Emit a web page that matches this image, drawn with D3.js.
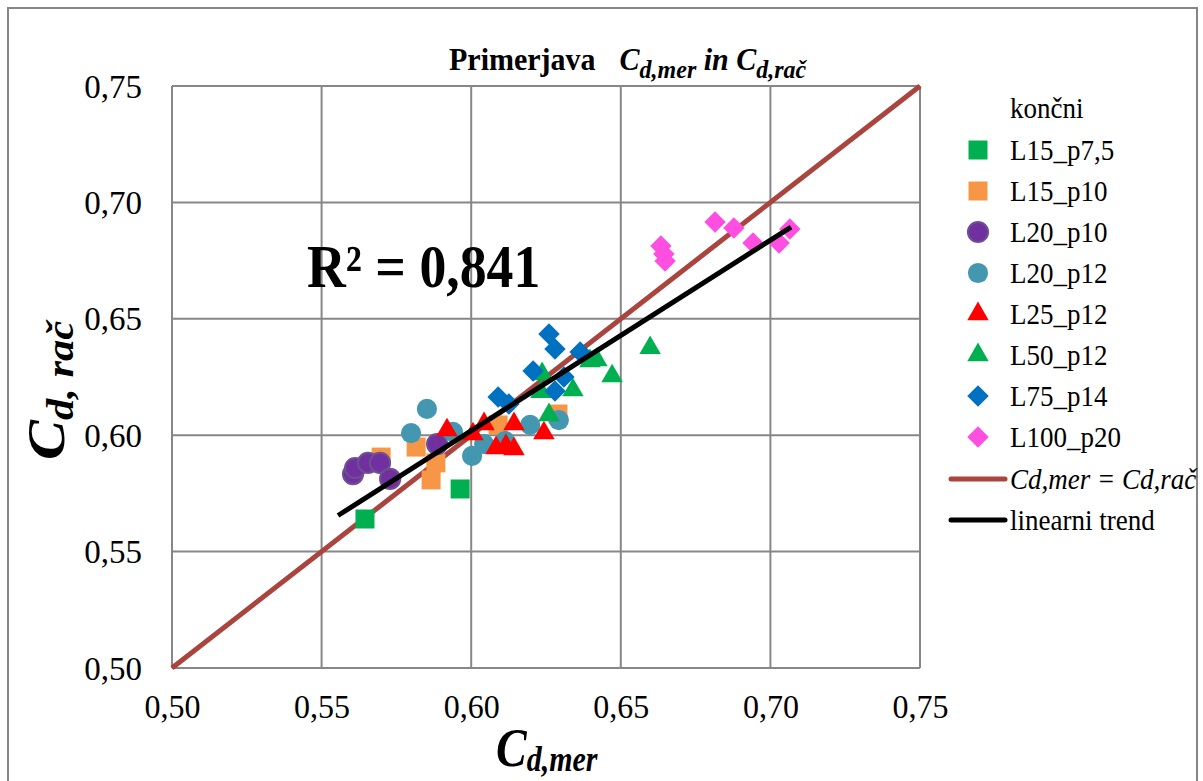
<!DOCTYPE html>
<html><head><meta charset="utf-8">
<script src="https://cdn.jsdelivr.net/npm/d3@7"></script>
<style>body{margin:0;background:#fff}svg{display:block}text{white-space:pre}</style>
</head><body>
<script>
// ---- data ----
const xTicks = [0.50, 0.55, 0.60, 0.65, 0.70, 0.75];
const yTicks = [0.50, 0.55, 0.60, 0.65, 0.70, 0.75];
const seriesNames = ["L15_p7,5","L15_p10","L20_p10","L20_p12","L25_p12","L50_p12","L75_p14","L100_p20"];
const L15_p7_5_x = [0.5645, 0.5963];
const L15_p7_5_y = [0.5640, 0.5769];
const L15_p10_x = [0.5699, 0.5816, 0.5882, 0.5866, 0.6090, 0.6290];
const L15_p10_y = [0.5906, 0.5949, 0.5881, 0.5808, 0.6044, 0.6091];
const L20_p10_x = [0.5605, 0.5612, 0.5655, 0.5695, 0.5729, 0.5886];
const L20_p10_y = [0.5833, 0.5859, 0.5881, 0.5881, 0.5812, 0.5962];
const L20_p12_x = [0.5852, 0.5799, 0.5939, 0.6003, 0.6043, 0.6113, 0.6197, 0.6293];
const L20_p12_y = [0.6113, 0.6009, 0.6014, 0.5911, 0.5962, 0.5975, 0.6044, 0.6065];
const L25_p12_x = [0.5919, 0.6006, 0.6043, 0.6083, 0.6116, 0.6143, 0.6143, 0.6243];
const L25_p12_y = [0.6022, 0.6005, 0.6048, 0.5945, 0.5954, 0.5941, 0.6048, 0.6009];
const L50_p12_x = [0.6237, 0.6233, 0.6340, 0.6397, 0.6420, 0.6471, 0.6260, 0.6598];
const L50_p12_y = [0.6263, 0.6186, 0.6194, 0.6319, 0.6323, 0.6254, 0.6087, 0.6375];
const L75_p14_x = [0.6260, 0.6280, 0.6207, 0.6364, 0.6310, 0.6280, 0.6090, 0.6126];
const L75_p14_y = [0.6435, 0.6370, 0.6276, 0.6357, 0.6250, 0.6190, 0.6164, 0.6134];
const L100_p20_x = [0.6634, 0.6644, 0.6648, 0.6815, 0.6878, 0.6942, 0.7029, 0.7065];
const L100_p20_y = [0.6813, 0.6778, 0.6748, 0.6916, 0.6890, 0.6826, 0.6826, 0.6886];
const equalLineX = [0.50, 0.75];
const equalLineY = [0.50, 0.75];
const trendX = [0.5555, 0.7069];
const trendY = [0.5655, 0.6894];
const r2Label = "R² = 0,841";

// ---- styling ----
const series = [
  {name: seriesNames[0], xs: L15_p7_5_x, ys: L15_p7_5_y, shape: "square", fill: "#00B050"},
  {name: seriesNames[1], xs: L15_p10_x, ys: L15_p10_y, shape: "square", fill: "#F79646"},
  {name: seriesNames[2], xs: L20_p10_x, ys: L20_p10_y, shape: "circle", fill: "#7030A0", stroke: "#6F4E94"},
  {name: seriesNames[3], xs: L20_p12_x, ys: L20_p12_y, shape: "circle", fill: "#4397B0"},
  {name: seriesNames[4], xs: L25_p12_x, ys: L25_p12_y, shape: "triangle", fill: "#FF0000"},
  {name: seriesNames[5], xs: L50_p12_x, ys: L50_p12_y, shape: "triangle", fill: "#00B050"},
  {name: seriesNames[6], xs: L75_p14_x, ys: L75_p14_y, shape: "diamond", fill: "#0070C0"},
  {name: seriesNames[7], xs: L100_p20_x, ys: L100_p20_y, shape: "diamond", fill: "#FF4FE0"}
];

const W = 1203, H = 781;
const M = {left: 172, right: 920, top: 86, bottom: 668};
const FONT = "'Liberation Serif','Times New Roman',serif";

const svg = d3.select("body").append("svg").attr("width", W).attr("height", H)
  .style("font-family", FONT);

// text helper: place at (tx,ty) with scale
function put(sel, tx, ty, sx, sy, rot) {
  return sel.attr("x", 0).attr("y", 0)
    .attr("transform", `translate(${tx},${ty})` + (rot ? ` rotate(${rot})` : "") + ` scale(${sx},${sy})`);
}

// outer border
svg.append("rect").attr("x", 8).attr("y", 8).attr("width", 1189).attr("height", 800)
  .attr("fill", "#fff").attr("stroke", "#868686").attr("stroke-width", 2);

const x = d3.scaleLinear().domain([0.5, 0.75]).range([M.left, M.right]);
const y = d3.scaleLinear().domain([0.5, 0.75]).range([M.bottom, M.top]);
const fmt = d => d3.format(".2f")(d).replace(".", ",");

// grid
const grid = svg.append("g").attr("stroke", "#878787").attr("stroke-width", 2);
xTicks.forEach(t => grid.append("line").attr("x1", x(t)).attr("x2", x(t)).attr("y1", M.top).attr("y2", M.bottom));
yTicks.forEach(t => grid.append("line").attr("y1", y(t)).attr("y2", y(t)).attr("x1", M.left).attr("x2", M.right));

// axes (labels only)
const xAxis = svg.append("g").attr("transform", `translate(0,${M.bottom})`)
  .call(d3.axisBottom(x).tickValues(xTicks).tickFormat(fmt).tickSize(0));
const yAxis = svg.append("g").attr("transform", `translate(${M.left},0)`)
  .call(d3.axisLeft(y).tickValues(yTicks).tickFormat(fmt).tickSize(0));
[xAxis, yAxis].forEach(a => {
  a.select(".domain").remove();
  a.selectAll("text").attr("font-family", FONT).attr("fill", "#000").attr("dy", 0);
});
xAxis.selectAll("text").attr("font-size", 32).each(function() { put(d3.select(this), 0, 50, 1, 1.06); });
yAxis.selectAll("text").attr("font-size", 33).each(function() { put(d3.select(this), -30, 11, 1, 1.03); });

// equality line (under markers)
const line = d3.line().x(d => x(d[0])).y(d => y(d[1]));
svg.append("path").datum(d3.zip(equalLineX, equalLineY)).attr("d", line)
  .attr("stroke", "#A9443F").attr("stroke-width", 5).attr("fill", "none");

// markers
function symPath(shape) {
  if (shape === "square") return d3.symbol(d3.symbolSquare, 361)();
  if (shape === "circle") return d3.symbol(d3.symbolCircle, 320)();
  if (shape === "triangle") return d3.symbol(d3.symbolTriangle, 200)();
  if (shape === "diamond") return d3.symbol(d3.symbolSquare, 230)();
}
function drawSym(g, s, cx, cy) {
  const p = g.append("path").attr("d", symPath(s.shape)).attr("fill", s.fill)
    .attr("transform", `translate(${cx},${cy})` + (s.shape === "diamond" ? " rotate(45)" : ""));
  if (s.stroke) p.attr("stroke", s.stroke).attr("stroke-width", 2);
  return p;
}
series.forEach(s => {
  const g = svg.append("g");
  d3.zip(s.xs, s.ys).forEach(d => drawSym(g, s, x(d[0]), y(d[1])));
});

// trend line
svg.append("path").datum(d3.zip(trendX, trendY)).attr("d", line)
  .attr("stroke", "#000").attr("stroke-width", 5).attr("fill", "none");

// R2
put(svg.append("text").attr("font-size", 56).attr("font-weight", "bold").text(r2Label), 307, 287, 0.96, 1.1);

// title
const title = put(svg.append("text").attr("font-size", 30).attr("font-weight", "bold"), 449, 70, 1, 1.08);
title.append("tspan").text("Primerjava");
title.append("tspan").attr("font-style", "italic").attr("dx", 24).text("C");
title.append("tspan").attr("font-style", "italic").attr("font-size", 24).attr("dy", 7).text("d,mer");
title.append("tspan").attr("font-style", "italic").attr("dy", -7).text(" in C");
title.append("tspan").attr("font-style", "italic").attr("font-size", 24).attr("dy", 7).text("d,rač");

// x axis label
const xl = put(svg.append("text").attr("font-size", 46).attr("font-weight", "bold").attr("font-style", "italic"), 496, 766, 1, 1.2);
xl.append("tspan").text("C");
xl.append("tspan").attr("font-size", 30).attr("dy", 4).text("d,mer");

// y axis label
const yl = put(svg.append("text").attr("font-size", 52).attr("font-weight", "bold").attr("font-style", "italic"), 64, 460, 1.15, 1, -90);
yl.append("tspan").text("C");
yl.append("tspan").attr("font-size", 37).attr("dy", 9).text("d, rač");

// legend
const lg = svg.append("g");
put(lg.append("text").attr("font-size", 27).text("končni"), 1010, 118, 1, 1.1);
series.forEach((s, i) => {
  const cy = 150 + i * 41;
  drawSym(lg, s, 978, cy);
  put(lg.append("text").attr("font-size", 27).text(s.name), 1010, cy + 10, 1, 1.1);
});
const lineItems = [
  {label: "Cd,mer = Cd,rač", color: "#A9443F", italic: true},
  {label: "linearni trend", color: "#000", italic: false}
];
lineItems.forEach((it, i) => {
  const cy = 479 + i * 41;
  lg.append("line").attr("x1", 951).attr("x2", 1005).attr("y1", cy).attr("y2", cy)
    .attr("stroke", it.color).attr("stroke-width", 5).attr("stroke-linecap", "round");
  put(lg.append("text").attr("font-size", 27).attr("font-style", it.italic ? "italic" : "normal").text(it.label), 1010, cy + 10, 1, 1.1);
});
</script>
</body></html>
